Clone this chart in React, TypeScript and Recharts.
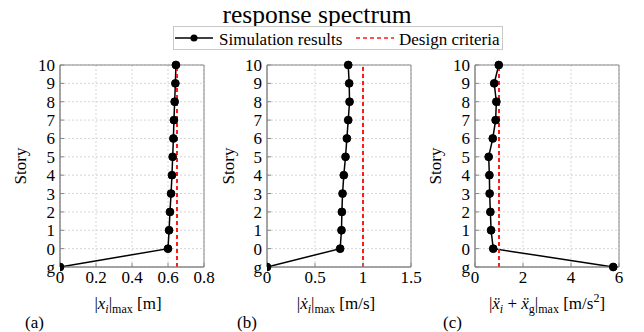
import React from "react";
import {
  LineChart,
  Line,
  XAxis,
  YAxis,
  CartesianGrid,
  ReferenceLine,
  ReferenceArea,
} from "recharts";

const FONT = '"Liberation Serif", "Times New Roman", serif';

const stories = ["10", "9", "8", "7", "6", "5", "4", "3", "2", "1", "0", "g"];
const displacement = [0.644, 0.641, 0.637, 0.633, 0.63, 0.626, 0.622, 0.617, 0.611, 0.606, 0.6, 0];
const velocity = [0.846, 0.856, 0.86, 0.846, 0.832, 0.818, 0.8, 0.787, 0.78, 0.776, 0.762, 0];
const acceleration = [0.99, 0.8, 0.89, 0.86, 0.74, 0.57, 0.6, 0.61, 0.64, 0.67, 0.76, 5.76];

const designDisp = 0.65;
const designVel = 1.0;
const designAcc = 1.0;

const ticksA = [0, 0.2, 0.4, 0.6, 0.8];
const ticksB = [0, 0.5, 1, 1.5];
const ticksC = [0, 2, 4, 6];

const build = (vals: number[]) => stories.map((s, i) => ({ story: s, value: vals[i] }));

type PanelProps = {
  left: number;
  values: number[];
  ticks: number[];
  design: number;
};

const tickStyle = { fill: "#000", fontSize: 17, fontFamily: FONT, style: { fontFamily: FONT } };

function Panel({ left, values, ticks, design }: PanelProps) {
  const data = build(values);
  const domain: [number, number] = [ticks[0], ticks[ticks.length - 1]];
  return (
    <div style={{ position: "absolute", left, top: 55 }}>
      <LineChart
        layout="vertical"
        width={220}
        height={242}
        data={data}
        margin={{ top: 10, right: 16, bottom: 0, left: 0 }}
      >
        <CartesianGrid stroke="#d6d6d6" strokeDasharray="2 2" />
        <XAxis
          type="number"
          domain={domain}
          ticks={ticks}
          height={30}
          tickSize={-4}
          tickMargin={8}
          stroke="#888"
          allowDataOverflow
          tick={tickStyle}
        />
        <YAxis
          type="category"
          dataKey="story"
          width={60}
          interval={0}
          tickSize={-4}
          tickMargin={9}
          stroke="#888"
          tick={tickStyle}
        />
        <ReferenceArea
          x1={domain[0]}
          x2={domain[1]}
          y1="10"
          y2="g"
          fill="none"
          fillOpacity={0}
          stroke="#888"
          strokeWidth={1}
        />
        <Line
          dataKey="value"
          stroke="#000"
          strokeWidth={1.5}
          dot={{ r: 3.9, fill: "#000", stroke: "#000", strokeWidth: 1 }}
          isAnimationActive={false}
        />
        <ReferenceLine x={design} stroke="#ff1a1a" strokeDasharray="4 3" strokeWidth={2} />
      </LineChart>
    </div>
  );
}

export default function App() {
  const sub = { fontSize: 12 };
  const t = { fontFamily: FONT };
  return (
    <div
      style={{
        position: "absolute",
        left: 0,
        top: 0,
        width: 644,
        height: 332,
        background: "#fff",
        fontFamily: FONT,
      }}
    >
      <Panel left={0} values={displacement} ticks={ticksA} design={designDisp} />
      <Panel left={207} values={velocity} ticks={ticksB} design={designVel} />
      <Panel left={415} values={acceleration} ticks={ticksC} design={designAcc} />
      <svg
        width={644}
        height={332}
        style={{ position: "absolute", left: 0, top: 0, pointerEvents: "none", fontFamily: FONT }}
      >
        <text x={317} y={23} textAnchor="middle" fontSize={25.5} fill="#000" style={t}>
          response spectrum
        </text>
        <rect x={173.5} y={26.5} width={329} height={23} fill="#fff" stroke="#c8c8c8" />
        <line x1={175} x2={213} y1={38} y2={38} stroke="#000" strokeWidth={1.5} />
        <circle cx={194} cy={38} r={3.5} fill="#000" />
        <text x={219} y={45} fontSize={17} fill="#000" style={t}>
          Simulation results
        </text>
        <line x1={356} x2={394} y1={38} y2={38} stroke="#ff1a1a" strokeWidth={1.5} strokeDasharray="4 3" />
        <text x={399} y={45} fontSize={17} fill="#000" style={t}>
          Design criteria
        </text>

        {[
          { x: 26, y: 166 },
          { x: 234, y: 166 },
          { x: 441, y: 166 },
        ].map((p, i) => (
          <text
            key={i}
            x={p.x}
            y={p.y}
            fontSize={17}
            textAnchor="middle"
            transform={`rotate(-90 ${p.x} ${p.y})`}
            fill="#000"
            style={t}
          >
            Story
          </text>
        ))}

        <text x={128} y={309} textAnchor="middle" fontSize={17} fill="#000" style={t}>
          |<tspan fontStyle="italic">x</tspan>
          <tspan fontStyle="italic" dy={4} {...sub}>i</tspan>
          <tspan dy={-4}>|</tspan>
          <tspan dy={4} {...sub}>max</tspan>
          <tspan dy={-4}> [m]</tspan>
        </text>
        <text x={336} y={309} textAnchor="middle" fontSize={17} fill="#000" style={t}>
          |<tspan fontStyle="italic">{"x\u0307"}</tspan>
          <tspan fontStyle="italic" dy={4} {...sub}>i</tspan>
          <tspan dy={-4}>|</tspan>
          <tspan dy={4} {...sub}>max</tspan>
          <tspan dy={-4}> [m/s]</tspan>
        </text>
        <text x={547} y={309} textAnchor="middle" fontSize={17} fill="#000" style={t}>
          |<tspan fontStyle="italic">{"x\u0308"}</tspan>
          <tspan fontStyle="italic" dy={4} {...sub}>i</tspan>
          <tspan dy={-4}> + </tspan>
          <tspan fontStyle="italic">{"x\u0308"}</tspan>
          <tspan dy={4} {...sub}>g</tspan>
          <tspan dy={-4}>|</tspan>
          <tspan dy={4} {...sub}>max</tspan>
          <tspan dy={-4}> [m/s</tspan>
          <tspan dy={-7} {...sub}>2</tspan>
          <tspan dy={7}>]</tspan>
        </text>

        <text x={25} y={328} fontSize={17} fill="#000" style={t}>(a)</text>
        <text x={237} y={328} fontSize={17} fill="#000" style={t}>(b)</text>
        <text x={443} y={328} fontSize={17} fill="#000" style={t}>(c)</text>
      </svg>
    </div>
  );
}
